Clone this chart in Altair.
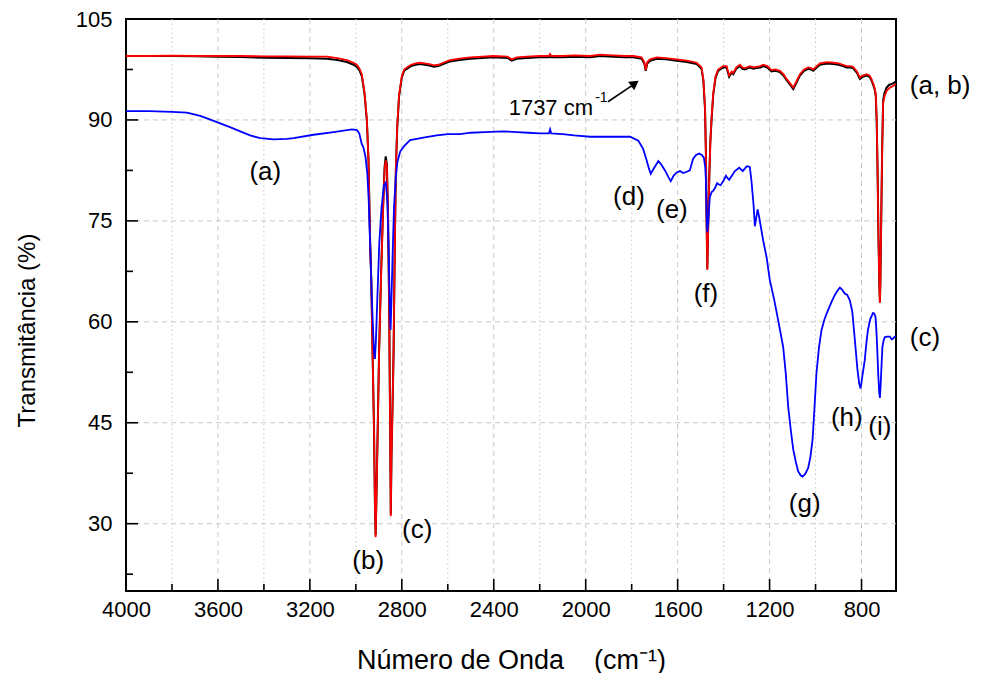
import altair as alt
import pandas as pd

# ---------------- data ----------------
wn_ab = [4000, 3900, 3800, 3700, 3600, 3500, 3400, 3300, 3200, 3126, 3080, 3039, 3010, 2996,
         2985, 2974, 2962, 2952, 2945, 2938, 2933, 2927, 2921, 2917, 2914, 2911, 2906, 2899,
         2890, 2881, 2875, 2870, 2865, 2860, 2855, 2851, 2848, 2845, 2840, 2836, 2831, 2826,
         2820, 2812, 2800, 2790, 2778, 2760, 2740, 2720, 2700, 2680, 2660, 2641, 2620, 2590,
         2550, 2503, 2450, 2402, 2340, 2322, 2300, 2257, 2200, 2160, 2155, 2150, 2100, 2050,
         1981, 1938, 1880, 1830, 1793, 1757, 1745, 1739, 1732, 1720, 1691, 1650, 1604, 1560,
         1517, 1496, 1488, 1481, 1477, 1474, 1471, 1466, 1462, 1458, 1452, 1445, 1435, 1424,
         1402, 1387, 1376, 1365, 1358, 1345, 1329, 1318, 1307, 1286, 1270, 1258, 1240, 1228,
         1210, 1192, 1175, 1155, 1140, 1126, 1110, 1097, 1085, 1068, 1050, 1032, 1020, 1010,
         995, 981, 950, 923, 900, 880, 865, 850, 837, 820, 807, 795, 778, 765, 757, 748, 742,
         738, 734, 730, 726, 722, 720, 718, 714, 710, 706, 700, 691, 680, 665, 651]
t_b = [99.5, 99.5, 99.55, 99.5, 99.5, 99.5, 99.45, 99.45, 99.4, 99.4, 99.2, 98.9, 98.5, 98.2,
       97.7, 96.8, 94.0, 90.0, 84.0, 72.0, 66.2, 55.0, 44.1, 33.0, 28.0, 33.0, 42.0, 55.2,
       67.0, 77.1, 82.5, 84.0, 83.0, 76.0, 62.0, 45.0, 31.1, 40.0, 48.0, 55.2, 70.0, 82.7,
       89.0, 93.7, 96.5, 97.5, 97.8, 98.2, 98.4, 98.5, 98.4, 98.3, 98.1, 98.2, 98.5, 98.9,
       99.1, 99.3, 99.4, 99.5, 99.4, 99.0, 99.3, 99.4, 99.5, 99.5, 99.8, 99.5, 99.5, 99.6,
       99.5, 99.7, 99.6, 99.5, 99.5, 99.3, 98.6, 97.4, 98.6, 99.0, 99.3, 99.2, 99.0, 98.8,
       98.5, 97.8, 96.0, 91.9, 85.0, 75.0, 67.7, 76.0, 82.0, 86.5, 90.5, 94.0, 96.5, 97.5,
       98.0, 98.0, 96.6, 97.2, 97.0, 97.8, 98.2, 97.8, 97.7, 98.0, 97.8, 97.9, 98.0, 98.2,
       98.0, 97.4, 97.5, 97.3, 96.8, 96.1, 95.4, 94.8, 95.6, 96.8, 97.5, 97.8, 97.7, 97.5,
       98.0, 98.4, 98.6, 98.5, 98.4, 98.2, 98.0, 98.0, 97.9, 97.2, 96.3, 96.6, 96.8, 96.6,
       96.1, 95.3, 94.6, 93.8, 90.0, 82.0, 72.0, 65.0, 62.8, 66.0, 76.0, 86.0, 92.5, 93.5,
       94.3, 94.7, 95.0, 95.3]
t_a = [99.5, 99.5, 99.5, 99.45, 99.4, 99.35, 99.25, 99.2, 99.15, 99.1, 98.9, 98.6, 98.2, 97.9,
       97.4, 96.5, 93.8, 89.8, 84.0, 72.0, 66.2, 55.0, 44.1, 33.0, 28.3, 33.0, 42.0, 55.5,
       67.5, 77.6, 83.0, 84.6, 83.4, 76.0, 62.0, 45.0, 31.4, 40.0, 48.0, 55.2, 70.0, 82.5,
       88.8, 93.5, 96.3, 97.3, 97.6, 98.0, 98.2, 98.3, 98.2, 98.1, 97.9, 98.0, 98.3, 98.7,
       98.9, 99.1, 99.2, 99.3, 99.2, 98.8, 99.1, 99.2, 99.3, 99.3, 99.6, 99.3, 99.3, 99.4,
       99.3, 99.5, 99.4, 99.3, 99.3, 99.1, 98.4, 97.3, 98.4, 98.8, 99.1, 99.0, 98.8, 98.6,
       98.3, 97.6, 95.8, 91.7, 85.0, 75.0, 67.9, 76.0, 82.0, 86.5, 90.3, 93.8, 96.3, 97.3,
       97.8, 97.8, 96.4, 97.0, 96.8, 97.6, 98.0, 97.6, 97.5, 97.8, 97.6, 97.7, 97.8, 98.0,
       97.8, 97.2, 97.3, 97.1, 96.6, 95.9, 95.2, 94.6, 95.4, 96.6, 97.3, 97.6, 97.5, 97.3,
       97.8, 98.2, 98.4, 98.3, 98.2, 98.0, 97.8, 97.8, 97.7, 97.0, 96.1, 96.4, 96.6, 96.4,
       95.9, 95.1, 94.4, 93.6, 89.8, 82.0, 72.0, 65.0, 63.0, 66.0, 76.0, 86.0, 92.9, 94.0,
       94.8, 95.2, 95.4, 95.7]

wn_c = [4000, 3900, 3800, 3735, 3677, 3630, 3590, 3545, 3503, 3460, 3416, 3358, 3300, 3271,
        3184, 3097, 3017, 2995, 2985, 2975, 2967, 2958, 2950, 2944, 2938, 2930, 2921, 2917,
        2913, 2906, 2898, 2888, 2878, 2870, 2863, 2857, 2852, 2849, 2846, 2840, 2834, 2826,
        2819, 2807, 2790, 2764, 2700, 2648, 2600, 2547, 2500, 2440, 2358, 2300, 2250, 2200,
        2160, 2155, 2150, 2100, 2050, 1981, 1938, 1850, 1807, 1771, 1750, 1735, 1725, 1717,
        1700, 1684, 1670, 1655, 1640, 1630, 1618, 1604, 1590, 1576, 1560, 1547, 1533, 1520,
        1506, 1495, 1486, 1480, 1477, 1474, 1471, 1467, 1460, 1452, 1445, 1436, 1428, 1420,
        1413, 1400, 1390, 1382, 1376, 1362, 1351, 1332, 1317, 1300, 1293, 1286, 1279, 1270,
        1264, 1258, 1252, 1245, 1228, 1213, 1199, 1180, 1163, 1141, 1130, 1119, 1108, 1097,
        1086, 1076, 1065, 1057, 1045, 1032, 1022, 1013, 1005, 996, 985, 974, 960, 946, 930,
        916, 905, 894, 885, 873, 862, 851, 840, 829, 818, 810, 804, 797, 786, 779, 772, 762,
        750, 744, 739, 735, 732, 727, 723, 720, 717, 713, 709, 704, 699, 690, 677, 668, 663,
        655, 650]
t_c = [91.3, 91.3, 91.2, 91.1, 90.6, 90.0, 89.5, 88.9, 88.3, 87.7, 87.3, 87.1, 87.2, 87.3,
       87.8, 88.2, 88.6, 88.5, 88.0, 86.5, 85.9, 84.5, 82.0, 78.0, 71.7, 63.0, 55.5, 54.5,
       57.0, 64.0, 71.7, 77.0, 80.3, 80.7, 78.0, 70.0, 62.0, 58.8, 62.0, 70.0, 77.1, 81.5,
       83.8, 85.3, 86.1, 87.0, 87.4, 87.7, 87.9, 87.9, 88.1, 88.2, 88.3, 88.2, 88.1, 88.0,
       88.0, 88.6, 88.0, 87.9, 87.7, 87.5, 87.5, 87.5, 87.5, 86.9, 85.7, 84.0, 82.8, 82.0,
       83.0, 83.9, 83.3, 82.5, 81.5, 80.9, 81.7, 82.2, 82.4, 82.1, 82.3, 82.5, 84.2, 84.8,
       85.0, 84.8, 84.4, 83.0, 81.0, 76.0, 73.3, 75.0, 78.5, 79.3, 79.5, 80.0, 80.6, 80.4,
       80.3, 81.0, 81.7, 81.3, 81.1, 81.8, 82.4, 82.9, 82.4, 83.1, 83.1, 83.0, 81.0, 77.5,
       74.2, 75.5, 76.7, 75.5, 72.1, 69.6, 66.2, 63.3, 60.3, 56.3, 52.5, 47.4, 44.0, 41.0,
       39.2, 37.8, 37.2, 37.0, 37.4, 38.3, 40.0, 42.5, 47.0, 52.4, 56.2, 58.8, 60.5, 61.7,
       63.0, 64.0, 64.6, 65.1, 64.8, 64.2, 64.0, 63.2, 61.5, 57.3, 53.0, 50.8, 50.1, 51.8,
       54.3, 56.8, 58.8, 60.4, 61.3, 61.2, 60.7, 58.5, 56.3, 52.0, 49.5, 48.7, 50.5, 53.5,
       56.3, 57.2, 57.7, 57.8, 57.8, 57.4, 57.5, 57.8, 57.8]

x_major = [4000, 3600, 3200, 2800, 2400, 2000, 1600, 1200, 800]
x_minor = [3800, 3400, 3000, 2600, 2200, 1800, 1400, 1000]
y_major = [30, 45, 60, 75, 90, 105]
y_minor = [22.5, 37.5, 52.5, 67.5, 82.5, 97.5]
y_grid = [30, 45, 60, 75, 90]

peak_labels = ["(a)", "(b)", "(c)", "(d)", "(e)", "(f)", "(g)", "(h)", "(i)"]
peak_x = [3394, 2946, 2733, 1812, 1625, 1477, 1047, 864, 720]
peak_y = [82.2, 24.4, 29.1, 78.5, 76.6, 64.1, 32.9, 45.7, 44.3]

side_labels = ["(a, b)", "(c)"]
side_x = [590, 590]
side_y = [95.1, 57.6]

FONT = "Liberation Sans"
W, H = 770, 572

xs = alt.Scale(domain=[650, 4000], reverse=True, nice=False, zero=False)
ys = alt.Scale(domain=[20, 105], nice=False, zero=False)

df_ab = pd.DataFrame({"wn": wn_ab, "a": t_a, "b": t_b})
df_c = pd.DataFrame({"wn": wn_c, "c": t_c})

NB = "\u00a0"
X_TITLE = "Número de Onda" + NB * 4 + "(cm⁻¹)"
Y_TITLE = "Transmitância (%)"

x_axis = alt.Axis(values=x_major, format="d", grid=False, ticks=False, tickSize=0, domain=False,
                  labelFont=FONT, labelFontSize=22, labelColor="black", labelPadding=8,
                  labelFlush=False, title=X_TITLE, titleFont=FONT,
                  titleFontSize=27, titleFontWeight="normal", titleColor="black",
                  titleBaseline="alphabetic", titleY=77)
y_axis = alt.Axis(values=y_major, grid=False, ticks=False, tickSize=0, domain=False,
                  labelFont=FONT, labelFontSize=22, labelColor="black", labelPadding=14,
                  title=Y_TITLE, titleFont=FONT, titleFontSize=24,
                  titleFontWeight="normal", titleColor="black", titleBaseline="alphabetic",
                  titleX=-92, titleY=311)


def X(field):
    return alt.X(field, scale=xs, axis=x_axis, title=X_TITLE)


def Y(field):
    return alt.Y(field, scale=ys, axis=y_axis, title=Y_TITLE)


GRID = "#c8c8c8"
grid_xM = alt.Chart(pd.DataFrame({"v": x_major[1:]})).mark_rule(
    color=GRID, strokeWidth=1, strokeDash=[5, 4]).encode(x=X("v:Q"))
grid_xm = alt.Chart(pd.DataFrame({"v": x_minor})).mark_rule(
    color=GRID, strokeWidth=1, strokeDash=[1.5, 3]).encode(x=X("v:Q"))
grid_y = alt.Chart(pd.DataFrame({"v": y_grid})).mark_rule(
    color=GRID, strokeWidth=1, strokeDash=[5, 4]).encode(y=Y("v:Q"))

tick_xM = alt.Chart(pd.DataFrame({"v": x_major})).mark_rule(color="black", strokeWidth=1.6).encode(
    x=X("v:Q"), y=alt.value(H), y2=alt.value(H - 12))
tick_xm = alt.Chart(pd.DataFrame({"v": x_minor})).mark_rule(color="black", strokeWidth=1.6).encode(
    x=X("v:Q"), y=alt.value(H), y2=alt.value(H - 7))
tick_yM = alt.Chart(pd.DataFrame({"v": y_major})).mark_rule(color="black", strokeWidth=1.6).encode(
    y=Y("v:Q"), x=alt.value(0), x2=alt.value(12))
tick_ym = alt.Chart(pd.DataFrame({"v": y_minor})).mark_rule(color="black", strokeWidth=1.6).encode(
    y=Y("v:Q"), x=alt.value(0), x2=alt.value(7))

line_a = alt.Chart(df_ab).mark_line(color="black", strokeWidth=2, clip=True).encode(
    x=X("wn:Q"), y=Y("a:Q"))
line_b = alt.Chart(df_ab).mark_line(color="#ff0000", strokeWidth=1.8, clip=True).encode(
    x=X("wn:Q"), y=Y("b:Q"))
line_c = alt.Chart(df_c).mark_line(color="#0000ff", strokeWidth=1.8, clip=True).encode(
    x=X("wn:Q"), y=Y("c:Q"))

peaks = alt.Chart(pd.DataFrame({"x": peak_x, "y": peak_y, "t": peak_labels})).mark_text(
    font=FONT, fontSize=26, color="black", align="center", baseline="middle").encode(
    x=X("x:Q"), y=Y("y:Q"), text="t:N")
sides = alt.Chart(pd.DataFrame({"x": side_x, "y": side_y, "t": side_labels})).mark_text(
    font=FONT, fontSize=26, color="black", align="left", baseline="middle").encode(
    x=X("x:Q"), y=Y("y:Q"), text="t:N")

# 1737 cm-1 annotation with arrow
ann_main = alt.Chart(pd.DataFrame({"x": [1968], "y": [90.8], "t": ["1737 cm"]})).mark_text(
    font=FONT, fontSize=22, color="black", align="right", baseline="alphabetic").encode(
    x=X("x:Q"), y=Y("y:Q"), text="t:N")
ann_sup = alt.Chart(pd.DataFrame({"x": [1959], "y": [92.6], "t": ["-1"]})).mark_text(
    font=FONT, fontSize=14, color="black", align="left", baseline="alphabetic").encode(
    x=X("x:Q"), y=Y("y:Q"), text="t:N")
arrow_line = alt.Chart(pd.DataFrame({"x": [1903], "y": [92.7], "x2": [1794], "y2": [95.2]})).mark_rule(
    color="black", strokeWidth=1.6).encode(x=X("x:Q"), y=Y("y:Q"), x2="x2:Q", y2="y2:Q")
arrow_head = alt.Chart(pd.DataFrame({"x": [1786], "y": [95.44]})).mark_point(
    shape="triangle-up", filled=True, color="black", size=110, angle=55, opacity=1).encode(
    x=X("x:Q"), y=Y("y:Q"))

chart = alt.layer(
    grid_xM, grid_xm, grid_y,
    line_a, line_b, line_c,
    tick_xM, tick_xm, tick_yM, tick_ym,
    peaks, sides, ann_main, ann_sup, arrow_line, arrow_head
).properties(
    width=W, height=H,
    padding={"left": 118, "top": 11, "right": 77, "bottom": 82},
    autosize=alt.AutoSizeParams(type="none"),
    background="white",
).configure_view(stroke="black", strokeWidth=2)

chart.save("out.html", embed_options={"renderer": "svg", "actions": False})
